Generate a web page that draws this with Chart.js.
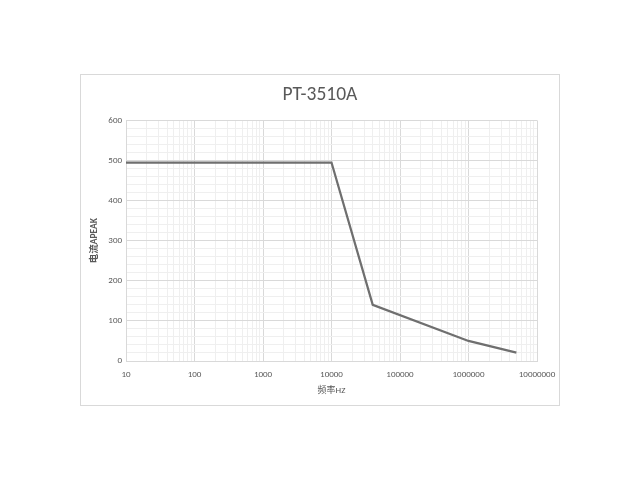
<!DOCTYPE html>
<html>
<head>
<meta charset="utf-8">
<script src="https://cdn.jsdelivr.net/npm/chart.js@4"></script>
<style>
  body { margin: 0; background: #fff; }
  #box {
    position: absolute; left: 80px; top: 74px;
    width: 478px; height: 330px;
    border: 1px solid #d9d9d9;
  }
</style>
</head>
<body>
<div id="box"><canvas id="chart"></canvas></div>
<script>
// frequency (Hz) vs peak current (A)
const freqHz = [10, 10000, 40000, 1000000, 5000000];
const currentA = [495, 495, 140, 50, 21];
const xTickDecades = [10, 100, 1000, 10000, 100000, 1000000, 10000000];
const yTickLabels = [0, 100, 200, 300, 400, 500, 600];

const font = "Calibri, Carlito, 'Liberation Sans', 'Noto Sans CJK SC', sans-serif";
const textColor = "#595959";

const points = freqHz.map((f, i) => ({ x: f, y: currentA[i] }));

new Chart(document.getElementById("chart"), {
  type: "line",
  data: {
    datasets: [
      {
        data: points,
        borderColor: "#6f6f6f",
        borderWidth: 2.25,
        pointRadius: 0,
        fill: false,
        tension: 0,
      },
    ],
  },
  options: {
    responsive: true,
    maintainAspectRatio: false,
    animation: false,
    layout: { padding: 0 },
    plugins: {
      legend: { display: false },
      tooltip: { enabled: false },
      title: {
        display: true,
        text: "PT-3510A",
        color: textColor,
        font: { family: font, size: 19.5, weight: "normal" },
        padding: { top: 8, bottom: 14 },
      },
    },
    scales: {
      x: {
        type: "logarithmic",
        min: 10,
        max: 10000000,
        afterBuildTicks: (axis) => {
          const ticks = [];
          for (let i = 0; i < xTickDecades.length; i++) {
            const d = xTickDecades[i];
            ticks.push({ value: d, major: true });
            if (i < xTickDecades.length - 1) {
              for (let m = 2; m <= 9; m++) ticks.push({ value: d * m, major: false });
            }
          }
          axis.ticks = ticks;
        },
        afterFit: (axis) => {
          axis.height = 44;
          axis.paddingRight = 22;
        },
        ticks: {
          autoSkip: false,
          maxRotation: 0,
          padding: 8,
          color: textColor,
          font: { family: font, size: 9 },
          callback: (v) => (xTickDecades.includes(v) ? String(v) : ""),
        },
        grid: {
          color: (ctx) => (ctx.tick && ctx.tick.major ? "#d9d9d9" : "#efefef"),
          drawTicks: false,
        },
        border: { color: "#d9d9d9" },
        title: {
          display: true,
          text: "频率HZ",
          color: textColor,
          font: { family: font, size: 9 },
          padding: { top: 0, bottom: 9 },
        },
      },
      y: {
        min: 0,
        max: 600,
        afterFit: (axis) => { axis.width = 45; },
        ticks: {
          stepSize: 20,
          autoSkip: false,
          padding: 4,
          color: textColor,
          font: { family: font, size: 9 },
          callback: (v) => (yTickLabels.includes(v) ? String(v) : ""),
        },
        grid: {
          color: (ctx) => (ctx.tick && ctx.tick.value % 100 === 0 ? "#d9d9d9" : "#efefef"),
          drawTicks: false,
        },
        border: { color: "#d9d9d9" },
        title: {
          display: true,
          text: "电流APEAK",
          color: textColor,
          font: { family: font, size: 9.5, weight: "bold" },
          padding: { top: 8, bottom: 4 },
        },
      },
    },
  },
});
</script>
</body>
</html>
